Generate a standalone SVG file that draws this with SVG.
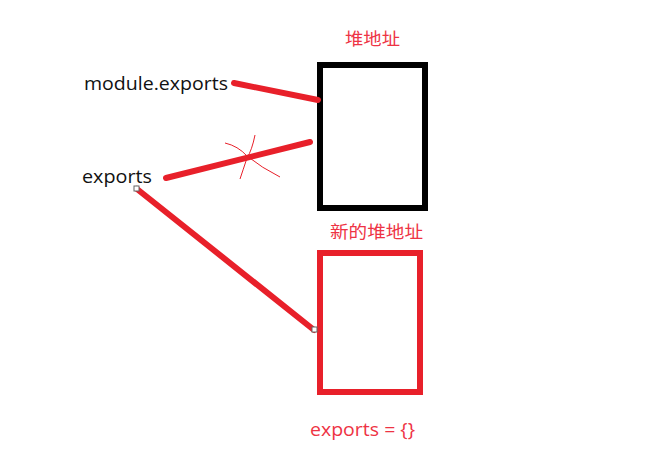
<svg xmlns="http://www.w3.org/2000/svg" width="652" height="471" viewBox="0 0 652 471">
<style>
.lbl{font-family:"Open Sans","Noto Sans","Noto Sans CJK SC",sans-serif;font-size:18px;fill:#111}
.red{fill:#ee3344}
.cjk{font-family:"Noto Sans CJK SC",sans-serif;font-size:17px;fill:#ee3344}
.conn{stroke:#e8202a;stroke-width:6;stroke-linecap:round;fill:none}
.thin{stroke:#e8202a;stroke-width:1;fill:none}
.handle{fill:#fff;stroke:#666;stroke-width:1}
</style>
<rect width="652" height="471" fill="#fff"/>
<g id="heap">
<rect x="320" y="65" width="105" height="143" fill="none" stroke="#000" stroke-width="6"/>
<text class="cjk" x="345" y="45" textLength="55" lengthAdjust="spacingAndGlyphs">堆地址</text>
</g>
<g id="newheap">
<rect x="320" y="253" width="100" height="139" fill="none" stroke="#e8202a" stroke-width="6"/>
<text class="cjk" x="330" y="238" textLength="93" lengthAdjust="spacingAndGlyphs">新的堆地址</text>
<text class="lbl red" x="310" y="436" textLength="105" lengthAdjust="spacingAndGlyphs">exports = {}</text>
</g>
<g id="module-exports">
<text class="lbl" x="84" y="90" textLength="144" lengthAdjust="spacingAndGlyphs">module.exports</text>
</g>
<g id="exports">
<text class="lbl" x="82" y="183" textLength="70" lengthAdjust="spacingAndGlyphs">exports</text>
</g>
<g id="connectors">
<line class="conn" x1="234" y1="83" x2="318" y2="100"/>
<line class="conn" x1="166" y1="178" x2="310" y2="142"/>
<path class="thin" d="M225 143 Q238 146 247 156 Q262 168 280 177"/>
<path class="thin" d="M255 135 Q252 150 247 158 Q243 170 240 179"/>
<line class="conn" stroke-width="5" x1="137" y1="189" x2="314" y2="330"/>
<rect class="handle" x="134" y="186" width="5" height="5"/>
<rect class="handle" x="312" y="327" width="5" height="5"/>
</g>
</svg>
